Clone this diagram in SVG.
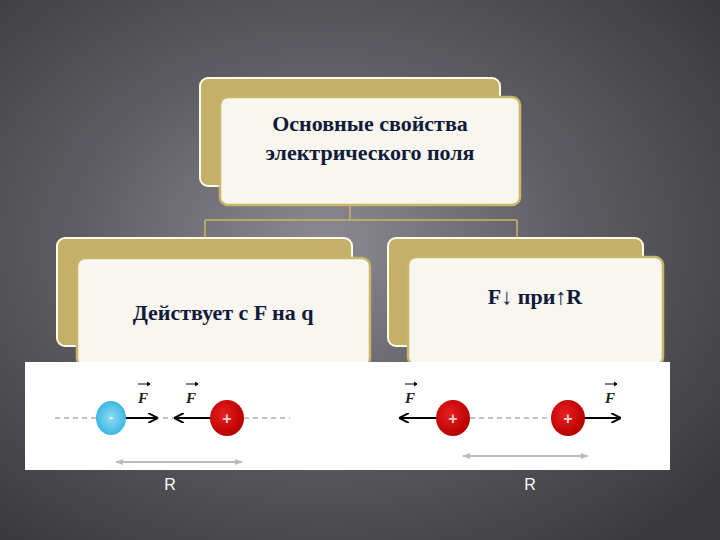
<svg xmlns="http://www.w3.org/2000/svg" width="720" height="540" viewBox="0 0 720 540">
<defs>
<radialGradient id="bg" cx="0.45" cy="0.45" r="0.7">
<stop offset="0" stop-color="#8a8a90"/><stop offset="0.5" stop-color="#5c5c62"/><stop offset="1" stop-color="#3a3a3e"/>
</radialGradient>
<marker id="ah" viewBox="0 0 10 10" refX="9" refY="5" markerWidth="5" markerHeight="5" orient="auto"><path d="M0,0 L10,5 L0,10" fill="none" stroke="#000" stroke-width="2"/></marker>
<marker id="gh" viewBox="0 0 10 10" refX="9" refY="5" markerWidth="4" markerHeight="4" orient="auto-start-reverse"><path d="M0,1 L10,5 L0,9 Z" fill="#bbb"/></marker>
<radialGradient id="red" cx="0.4" cy="0.4" r="0.6"><stop offset="0" stop-color="#e82020"/><stop offset="1" stop-color="#b80000"/></radialGradient>
<radialGradient id="blue" cx="0.5" cy="0.5" r="0.55"><stop offset="0" stop-color="#8fdcf5"/><stop offset="1" stop-color="#35b3e0"/></radialGradient>
</defs>
<style>
.back{fill:#c5b06a;stroke:#fffbe8;stroke-width:2}
.front{fill:#f8f6ee;stroke:#c9b56a;stroke-width:2.5}
.t{font-family:"Liberation Serif",serif;font-weight:bold;font-size:22px;fill:#101a3a;text-anchor:middle}
.ff{font-family:"Liberation Serif",serif;font-style:italic;font-weight:bold;font-size:15px;fill:#222;text-anchor:middle}
.r{font-family:"Liberation Sans",sans-serif;font-size:16px;fill:#fff;text-anchor:middle}
.dash{stroke:#888;stroke-width:1;stroke-dasharray:5,4}
.arr{stroke:#000;stroke-width:2;marker-end:url(#ah)}
.g{stroke:#bbb;stroke-width:2;marker-end:url(#gh);marker-start:url(#gh)}
</style>
<rect width="720" height="540" fill="url(#bg)"/>
<g id="connectors" fill="none" stroke="#c9b56a" stroke-width="1.5">
<path d="M350 205 V220 M205 220 H517 M205 220 V238 M517 220 V238"/>
</g>
<g id="root">
<rect class="back" x="200" y="78" width="300" height="108" rx="8"/>
<rect class="front" x="220" y="97" width="300" height="108" rx="8"/>
<text class="t" x="370" y="131">Основные свойства</text>
<text class="t" x="370" y="160">электрического поля</text>
</g>
<g id="left">
<rect class="back" x="57" y="238" width="295" height="108" rx="8"/>
<rect class="front" x="77" y="258" width="293" height="108" rx="8"/>
<text class="t" x="223" y="320">Действует с  F на q</text>
</g>
<g id="right">
<rect class="back" x="388" y="238" width="255" height="108" rx="8"/>
<rect class="front" x="408" y="257" width="255" height="108" rx="8"/>
<text class="t" x="535" y="304">F↓ при↑R</text>
</g>
<g id="picture">
<rect x="25" y="362" width="645" height="108" fill="#fff"/>
<line class="dash" x1="55" y1="418" x2="290" y2="418"/>
<line class="dash" x1="470" y1="418" x2="550" y2="418"/>
<line class="arr" x1="120" y1="418" x2="157" y2="418"/>
<line class="arr" x1="212" y1="418" x2="175" y2="418"/>
<line class="arr" x1="440" y1="418" x2="400" y2="418"/>
<line class="arr" x1="580" y1="418" x2="620" y2="418"/>
<ellipse cx="111" cy="418" rx="15" ry="17" fill="url(#blue)"/>
<text x="111" y="422" fill="#fff" font-family="Liberation Sans,sans-serif" font-size="12" font-weight="bold" text-anchor="middle">-</text>
<ellipse cx="227" cy="418" rx="17" ry="18" fill="url(#red)"/>
<ellipse cx="453" cy="418" rx="17" ry="18" fill="url(#red)"/>
<ellipse cx="568" cy="418" rx="17" ry="18" fill="url(#red)"/>
<g font-family="Liberation Sans,sans-serif" font-size="16" font-weight="bold" fill="#f4d0d0" text-anchor="middle">
<text x="227" y="424">+</text><text x="453" y="424">+</text><text x="568" y="424">+</text></g>
<text class="ff" x="143" y="403">F</text><text class="ff" x="191" y="403">F</text>
<text class="ff" x="410" y="403">F</text>
<text class="ff" x="610" y="403">F</text>
<g stroke="#000" stroke-width="1"><path d="M138 384 H150 M186 384 H198 M405 384 H417 M605 384 H617 M147 382 L150 384 L147 386 M195 382 L198 384 L195 386 M414 382 L417 384 L414 386 M614 382 L617 384 L614 386"/></g>
<line class="g" x1="116" y1="462" x2="242" y2="462"/>
<line class="g" x1="463" y1="456" x2="588" y2="456"/>
</g>
<text class="r" x="170" y="490">R</text>
<text class="r" x="530" y="490">R</text>
</svg>
